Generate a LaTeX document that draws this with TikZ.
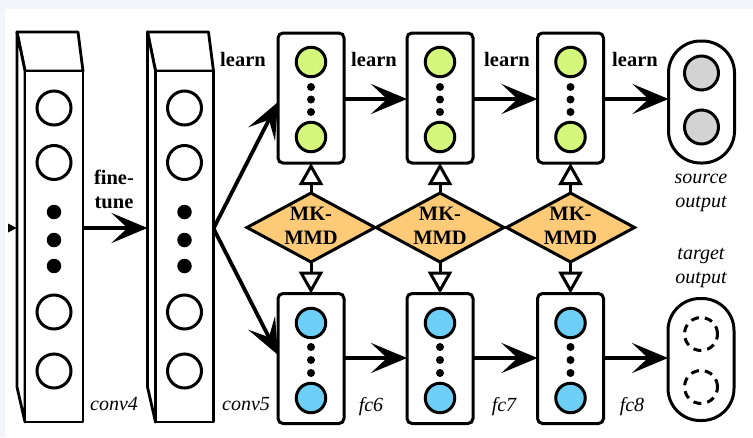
\documentclass[tikz,border=0pt]{standalone}
\usepackage{fontspec}
\setmainfont{Liberation Serif}
\usetikzlibrary{arrows.meta,shapes.geometric,calc}

\definecolor{srcgreen}{HTML}{D4F77B}
\definecolor{tgtblue}{HTML}{6DCFF6}
\definecolor{mmdorange}{HTML}{FDCB78}
\definecolor{outgray}{HTML}{D3D3D3}
\definecolor{framebg}{HTML}{F2F6FB}

\begin{document}
\begin{tikzpicture}[x=1pt,y=-1pt,
  every node/.style={inner sep=0pt,outer sep=0pt},
  slab/.style={draw,line width=2.8pt,fill=white,line join=round,
    minimum width=58pt,minimum height=351pt},
  slabface/.style={draw,line width=2.8pt,fill=white,line join=round},
  unit/.style={circle,draw,line width=3pt,fill=white,minimum size=34pt},
  bigdot/.style={circle,fill=black,minimum size=14.5pt},
  layerbox/.style={draw,line width=3pt,fill=white,rounded corners=5pt,
    minimum width=66pt,minimum height=130pt},
  gunit/.style={circle,draw,line width=3pt,fill=srcgreen,minimum size=29.5pt},
  bunit/.style={circle,draw,line width=3pt,fill=tgtblue,minimum size=29.5pt},
  smalldot/.style={circle,fill=black,minimum size=8pt},
  mmd/.style={diamond,draw,line width=3pt,fill=mmdorange,line join=miter,
    minimum width=128pt,minimum height=69pt},
  pill/.style={draw,line width=3pt,fill=white,rounded corners=32pt,
    minimum width=66pt,minimum height=122pt},
  sunit/.style={circle,draw,line width=3pt,fill=outgray,minimum size=34pt},
  tunit/.style={circle,draw,line width=3pt,dash pattern=on 8pt off 6pt,
    minimum size=33pt},
  bold/.style={font=\fontsize{20.5}{24}\selectfont\bfseries,align=center},
  ital/.style={font=\fontsize{20}{24}\selectfont\itshape,align=center},
  arr/.style={line width=3.8pt,-{Stealth[length=36pt,width=30pt,inset=16pt]}},
  oarr/.style={line width=3pt,-{Triangle[open,length=22pt,width=24pt]}}
]
\useasboundingbox (0,0) rectangle (753,437);
% faint frame along the top and left edges
\fill[framebg] (0,0) rectangle (753,9);
\fill[framebg] (0,0) rectangle (5,437);

% ---------- convolutional slabs ----------
\foreach \nm/\x in {c4/54,c5/184.5}{
  \coordinate (\nm pos) at (\x,246.5);
  \path[slabface] ($(\nm pos)+(-29,-175.5)$) -- ++(-8,-39) -- ++(61,0)
      -- ($(\nm pos)+(29,-175.5)$) -- cycle;
  \path[slabface] ($(\nm pos)+(-29,-175.5)$) -- ++(-8,-39) -- ++(0,355)
      -- ($(\nm pos)+(-29,175.5)$) -- cycle;
  \node[slab] (\nm) at (\nm pos) {};
  \node[unit] (\nm u1) at (\x,108) {};
  \node[unit] (\nm u2) at (\x,162.5) {};
  \node[bigdot] (\nm d1) at (\x,212) {};
  \node[bigdot] (\nm d2) at (\x,240) {};
  \node[bigdot] (\nm d3) at (\x,266) {};
  \node[unit] (\nm u3) at (\x,312) {};
  \node[unit] (\nm u4) at (\x,371) {};
}
% incoming arrow tip on the left
\fill (8,223.5) -- (16.5,228) -- (8,232.5) -- cycle;

\node[ital,anchor=base] (c4lab) at (114,410) {conv4};
\node[ital,anchor=base] (c5lab) at (246,410) {conv5};
\node[bold,anchor=base] (ftlab) at (114,208) {fine-\\tune};

\coordinate (ft) at (0,228);
\coordinate (c5side) at ($(c5.west)+(-8,0)$);
\draw[arr] (c4.east |- ft) -- (c5side |- ft);

% ---------- fully connected layers ----------
\foreach \n/\x in {1/311,2/440,3/570.5}{
  % source (upper) stream
  \node[layerbox] (s\n) at (\x,98) {};
  \node[gunit] (s\n a) at (\x,62) {};
  \node[smalldot] (s\n p) at (\x,87) {};
  \node[smalldot] (s\n q) at (\x,99.5) {};
  \node[smalldot] (s\n r) at (\x,112) {};
  \node[gunit] (s\n b) at (\x,137) {};
  % target (lower) stream
  \node[layerbox] (t\n) at (\x,358.5) {};
  \node[bunit] (t\n a) at (\x,323) {};
  \node[smalldot] (t\n p) at (\x,347) {};
  \node[smalldot] (t\n q) at (\x,360) {};
  \node[smalldot] (t\n r) at (\x,373) {};
  \node[bunit] (t\n b) at (\x,398) {};
  % MK-MMD adaptation
  \node[mmd] (m\n) at (\x,227.5) {};
  \node[bold] (m\n t) at (\x,226) {MK-\\MMD};
  \draw[oarr] (m\n.north) -- (s\n.south);
  \draw[oarr] (m\n.south) -- (t\n.north);
}

% output layers
\node[pill] (so) at (701.5,102) {};
\node[sunit] (so a) at (701.5,73) {};
\node[sunit] (so b) at (701.5,127) {};
\node[pill] (to) at (701,359.5) {};
\node[tunit] (to a) at (701,334) {};
\node[tunit] (to b) at (701,387) {};

% connectors
\coordinate (c5out) at ($(c5.east)+(0,-18)$);
\draw[arr] (c5out) -- ($(s1.west)+(0,4)$);
\draw[arr] (c5out) -- ($(t1.west)+(0,-3.5)$);
\draw[arr] (s1.east |- 0,99) -- (s2.west |- 0,99);
\draw[arr] (s2.east |- 0,99) -- (s3.west |- 0,99);
\draw[arr] (s3.east |- 0,99) -- (so.west |- 0,99);
\draw[arr] (t1.east |- 0,358) -- (t2.west |- 0,358);
\draw[arr] (t2.east |- 0,358) -- (t3.west |- 0,358);
\draw[arr] (t3.east |- 0,358) -- (to.west |- 0,358);

% labels
\node[bold,anchor=base] (l1) at (243,66) {learn};
\node[bold,anchor=base] (l2) at (374,66) {learn};
\node[bold,anchor=base] (l3) at (507,66) {learn};
\node[bold,anchor=base] (l4) at (635,66) {learn};
\node[ital,anchor=base] (fc6) at (371,411) {fc6};
\node[ital,anchor=base] (fc7) at (504,411) {fc7};
\node[ital,anchor=base] (fc8) at (632,411) {fc8};
\node[ital,anchor=base] (srclab) at (701,207) {source\\output};
\node[ital,anchor=base] (tgtlab) at (701,283) {target\\output};
\end{tikzpicture}
\end{document}
